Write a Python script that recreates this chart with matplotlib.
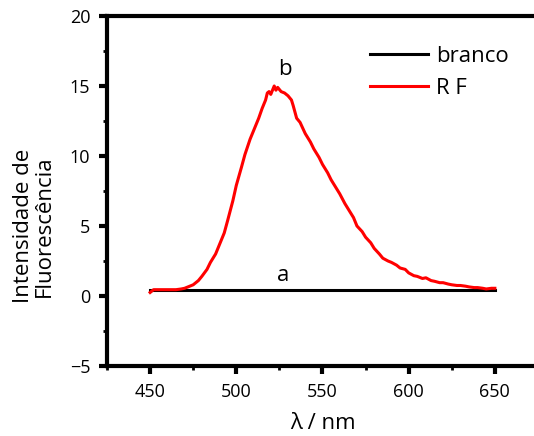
import numpy as np
import matplotlib.pyplot as plt
from matplotlib.ticker import MultipleLocator

plt.rcParams['font.family'] = ['Open Sans', 'DejaVu Sans']

# emission spectra (fluorescence intensity vs wavelength)
wl_rf = [450, 452, 455, 460, 465, 468, 470, 473, 475, 478, 480, 483, 485, 488,
         490, 493, 495, 498, 500, 503, 505, 508, 510, 513, 515, 517, 518, 519,
         520, 521, 522, 523, 524, 526, 528, 530, 532, 533, 535, 537, 540, 543,
         545, 548, 550, 553, 555, 558, 560, 563, 565, 568, 570, 573, 575, 578,
         580, 583, 585, 588, 590, 593, 595, 598, 600, 603, 605, 608, 610, 613,
         615, 618, 620, 623, 625, 628, 630, 633, 635, 638, 640, 643, 645, 648, 650]
int_rf = [0.25, 0.45, 0.45, 0.45, 0.45, 0.5, 0.55, 0.7, 0.8, 1.1, 1.4, 1.9, 2.4, 3.0,
          3.6, 4.5, 5.4, 6.8, 7.9, 9.2, 10.1, 11.2, 11.8, 12.7, 13.4, 14.0, 14.5, 14.6,
          14.4, 14.7, 15.0, 14.7, 14.9, 14.6, 14.5, 14.3, 14.0, 13.6, 12.7, 12.4, 11.6, 11.0,
          10.5, 9.9, 9.4, 8.8, 8.3, 7.7, 7.3, 6.6, 6.2, 5.6, 5.0, 4.6, 4.2, 3.8,
          3.4, 3.0, 2.7, 2.5, 2.4, 2.2, 2.0, 1.9, 1.65, 1.45, 1.4, 1.25, 1.3, 1.1,
          1.05, 0.95, 0.95, 0.85, 0.8, 0.75, 0.75, 0.7, 0.65, 0.6, 0.6, 0.55, 0.5, 0.55, 0.55]

wl_blank = [450, 500, 550, 600, 650]
int_blank = [0.45, 0.45, 0.45, 0.45, 0.45]

fig = plt.figure(figsize=(5.34, 4.36), dpi=100)
ax = fig.add_axes([0.2004, 0.1606, 0.807, 0.8027])

ax.plot(wl_blank, int_blank, color='black', lw=2.2, label='branco')
ax.plot(wl_rf, int_rf, color='red', lw=2.2, label='R F')

ax.text(527, 0.7, 'a', fontsize=16, ha='center', va='bottom')
ax.text(528.5, 15.4, 'b', fontsize=16, ha='center', va='bottom')

ax.set_xlim(425, 675)
ax.set_ylim(-5, 20)
ax.xaxis.set_major_locator(MultipleLocator(50))
ax.xaxis.set_minor_locator(MultipleLocator(25))
ax.yaxis.set_major_locator(MultipleLocator(5))
ax.yaxis.set_minor_locator(MultipleLocator(2.5))
ax.set_xticks([450, 500, 550, 600, 650])

for s in ax.spines.values():
    s.set_linewidth(3)
ax.tick_params(which='major', direction='out', length=6, width=3, labelsize=13, pad=6)
ax.tick_params(which='minor', direction='out', length=3, width=2)

ax.set_xlabel('λ / nm', fontsize=16, labelpad=9)
ax.set_ylabel('Intensidade de\nFluorescência', fontsize=16, linespacing=1.05)
ax.yaxis.set_label_coords(-0.12, 0.4)

ax.legend(loc='upper left', bbox_to_anchor=(0.589, 0.94), frameon=False, fontsize=16,
          handlelength=2.6, handletextpad=0.4, labelspacing=0.5, borderaxespad=0)

plt.savefig('out.png', dpi=100)
